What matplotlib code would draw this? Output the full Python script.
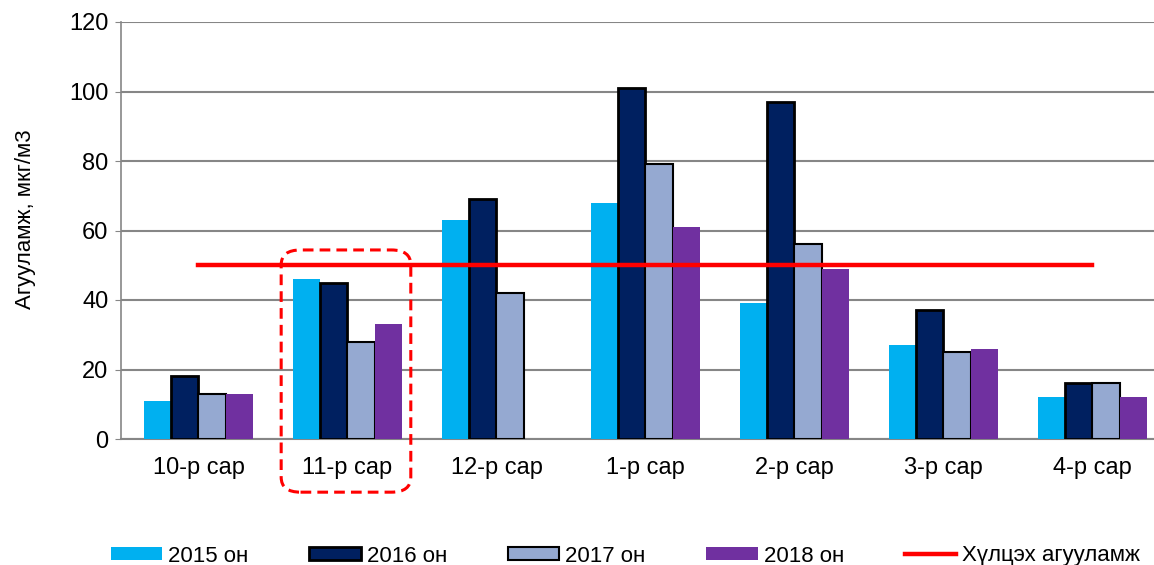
import matplotlib.pyplot as plt
import matplotlib as mpl
import numpy as np
from matplotlib.patches import FancyBboxPatch

# Data
months = ["10-р сар", "11-р сар", "12-р сар", "1-р сар", "2-р сар", "3-р сар", "4-р сар"]
y2015 = [11, 46, 63, 68, 39, 27, 12]
y2016 = [18, 45, 69, 101, 97, 37, 16]
y2017 = [13, 28, 42, 79, 56, 25, 16]
y2018 = [13, 33, np.nan, 61, 49, 26, 12]
limit_value = 50
series_labels = ["2015 он", "2016 он", "2017 он", "2018 он"]
limit_label = "Хүлцэх агууламж"

mpl.rcParams["font.family"] = ["Liberation Sans", "DejaVu Sans"]
mpl.rcParams["font.size"] = 17

fig = plt.figure(figsize=(11.54, 5.65), dpi=100)
ax = fig.add_axes([121 / 1154, 126 / 565, 1047 / 1154, 417 / 565])

x = np.arange(len(months))
width = 0.183
colors = ["#00B0F0", "#002060", "#95A9D1", "#7030A0"]
edgew = [0, 2.0, 1.5, 0]
bars = []
for i, vals in enumerate([y2015, y2016, y2017, y2018]):
    b = ax.bar(x + (i - 1.5) * width, vals, width=width, color=colors[i],
               edgecolor="black" if edgew[i] else colors[i], linewidth=edgew[i], zorder=3,
               label=series_labels[i])
    bars.append(b)

line, = ax.plot([x[0], x[-1]], [limit_value, limit_value], color="#FF0000", lw=3.2,
                zorder=4, label=limit_label)

# highlight box around 11-р сар
box = FancyBboxPatch((x[1] - 0.445, -15.3), 0.87, 69.7,
                     boxstyle="round,pad=0,rounding_size=0.13",
                     mutation_aspect=33, fill=False, edgecolor="#FF0000",
                     linestyle=(0, (3.5, 2)), lw=2.2, clip_on=False, zorder=5)
ax.add_patch(box)

ax.set_xlim(-0.52, 6.507)
ax.set_ylim(0, 120)
ax.set_yticks(np.arange(0, 121, 20))
ax.set_xticks(x, months)
ax.yaxis.grid(True, color="#868686", lw=1.5, zorder=0)
for s in ["top", "right"]:
    ax.spines[s].set_visible(False)
ax.spines["left"].set_color("#868686")
ax.spines["bottom"].set_color("#868686")
ax.spines["left"].set_linewidth(1.2)
ax.spines["bottom"].set_linewidth(1.5)
ax.tick_params(axis="y", length=4, color="#868686", pad=5)
ax.tick_params(axis="x", length=0, pad=13)
ax.set_ylabel("Агууламж, мкг/м3", fontsize=16, labelpad=24)
ax.yaxis.label.set_y(0.528)

leg = fig.legend(handles=bars + [line], loc="center left",
                 bbox_to_anchor=(111 / 1154, 1 - 556 / 565), ncol=5, frameon=False,
                 handlelength=2.3, handleheight=0.54, handletextpad=0.27,
                 columnspacing=2.75, borderaxespad=0, borderpad=0, fontsize=16)

fig.savefig("out.png", dpi=100)
